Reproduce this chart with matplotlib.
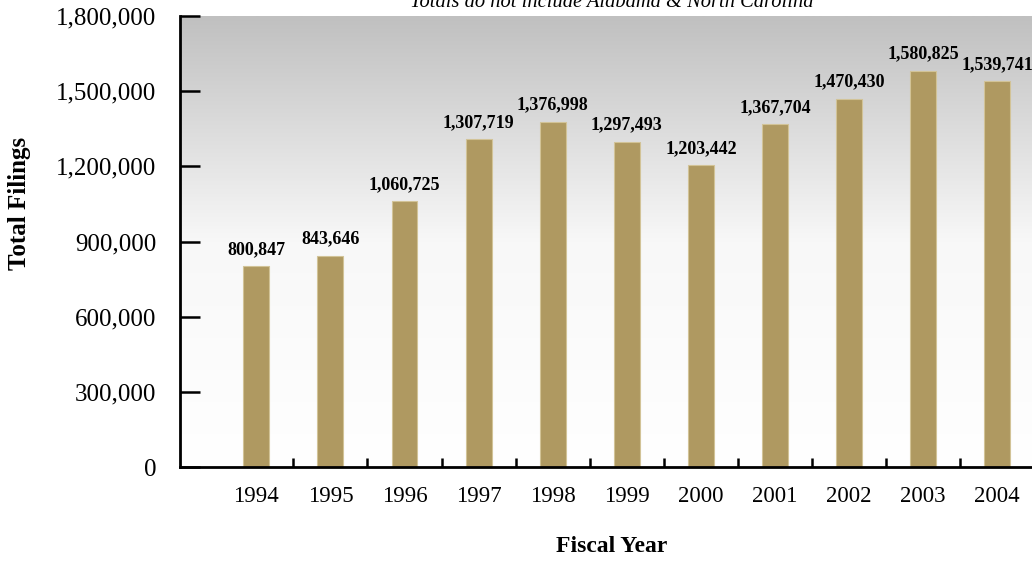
import numpy as np
import matplotlib
matplotlib.use("Agg")
import matplotlib.pyplot as plt
from matplotlib.colors import LinearSegmentedColormap

years = ["1994", "1995", "1996", "1997", "1998", "1999", "2000", "2001", "2002", "2003", "2004"]
filings = [800847, 843646, 1060725, 1307719, 1376998, 1297493, 1203442, 1367704, 1470430, 1580825, 1539741]
yticks = [0, 300000, 600000, 900000, 1200000, 1500000, 1800000]
title = "Totals do not include Alabama & North Carolina"

plt.rcParams['font.family'] = ['Liberation Serif', 'DejaVu Serif']

fig = plt.figure(figsize=(10.32, 5.63), dpi=100)
ax = fig.add_axes([180/1032, 96/563, 1 - 180/1032, (467-16)/563])

x = np.arange(len(years))
ax.set_xlim(-1.03, 10.47)
ax.set_ylim(0, 1800000)

# gradient background
cmap = LinearSegmentedColormap.from_list("bg", ["#ffffff", "#f8f8f8", "#c0c0c0"])
grad = np.linspace(0, 1, 256).reshape(-1, 1)
ax.imshow(grad, extent=[0, 1, 0, 1], transform=ax.transAxes, aspect='auto',
          cmap=cmap, origin='lower', zorder=0)

bars = ax.bar(x, filings, width=0.35, color="#AF9961", edgecolor="#D2C397",
              linewidth=0.8, zorder=2)
for xi, v in zip(x, filings):
    ax.annotate(f"{v:,}", (xi, v), xytext=(0, 6), textcoords="offset points",
                ha="center", va="bottom", fontsize=13, fontweight="bold", zorder=3)

for s in ["top", "right"]:
    ax.spines[s].set_visible(False)
for s in ["left", "bottom"]:
    ax.spines[s].set_linewidth(2.0)
    ax.spines[s].set_zorder(4)

ax.set_yticks(yticks)
ax.set_yticklabels([f"{t:,}" for t in yticks], fontsize=18)
ax.tick_params(axis='y', direction='in', length=14.5, width=1.8, pad=17)

ax.set_xticks(x)
ax.set_xticklabels(years, fontsize=16.5)
ax.set_xticks(x[:-1] + 0.5, minor=True)
ax.tick_params(axis='x', which='major', length=0, pad=14)
ax.tick_params(axis='x', which='minor', direction='in', length=6.5, width=1.8)

fig.text(20/1032, 1 - 203/563, "Total Filings", rotation=90, ha="center", va="center",
         fontsize=18, fontweight="bold")
fig.text(612/1032, 1 - 546/563, "Fiscal Year", ha="center", va="center",
         fontsize=17, fontweight="bold")
fig.text(612/1032, 1 - 7/563, title, ha="center", va="baseline",
         fontsize=14.8, style="italic")

fig.savefig("out.png", dpi=100)
